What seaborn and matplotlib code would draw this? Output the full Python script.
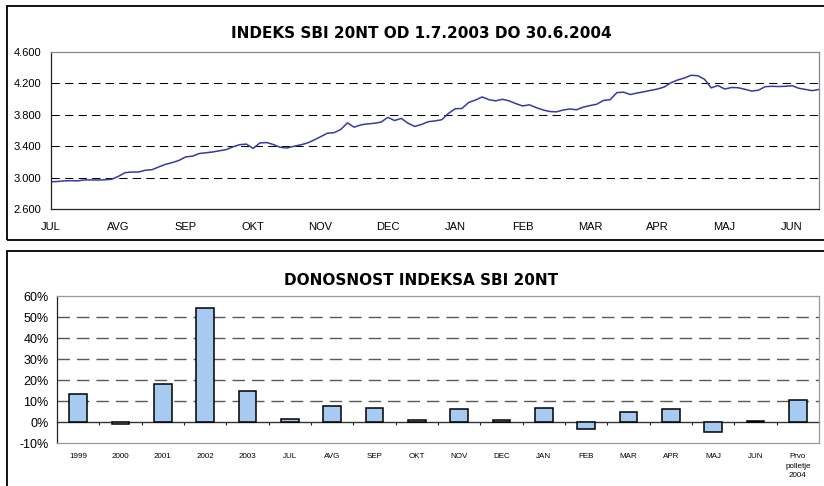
# coding=utf-8
# filename: plot.py

import matplotlib
matplotlib.use('Agg')
import matplotlib.pyplot as plt
from matplotlib.patches import Rectangle
from matplotlib.ticker import FuncFormatter
import numpy as np
import seaborn as sns


# SBI 20NT index (about 2.2 trading days per point)
sbi_index = [
    2946, 2950, 2958, 2960, 2958, 2970, 2970, 2968, 2972, 2978,
    3015, 3062, 3070, 3070, 3093, 3100, 3135, 3168, 3190, 3218,
    3262, 3272, 3305, 3315, 3325, 3340, 3355, 3390, 3418, 3425,
    3370, 3440, 3445, 3420, 3385, 3375, 3396, 3415, 3437, 3475,
    3518, 3563, 3570, 3610, 3695, 3640, 3670, 3682, 3690, 3705,
    3765, 3725, 3752, 3690, 3650, 3675, 3710, 3720, 3735, 3815,
    3875, 3878, 3955, 3985, 4025, 3990, 3975, 3995, 3975, 3940,
    3910, 3925, 3890, 3860, 3840, 3835, 3858, 3872, 3862, 3895,
    3915, 3932, 3980, 3990, 4080, 4085, 4055, 4075, 4090, 4108,
    4125, 4150, 4205, 4240, 4265, 4300, 4295, 4250, 4140, 4170,
    4125, 4145, 4142, 4122, 4100, 4110, 4155, 4160, 4157, 4160,
    4168, 4135, 4120, 4105, 4120,
]
month_labels = ['JUL', 'AVG', 'SEP', 'OKT', 'NOV', 'DEC',
                'JAN', 'FEB', 'MAR', 'APR', 'MAJ', 'JUN']
points_per_month = 10

# returns (%)
ret_labels = ['1999', '2000', '2001', '2002', '2003', 'JUL', 'AVG', 'SEP',
              'OKT', 'NOV', 'DEC', 'JAN', 'FEB', 'MAR', 'APR', 'MAJ', 'JUN',
              'Prvo\npolletje\n2004']
ret_values = [13.4, -0.9, 18.1, 54.3, 14.7, 1.5, 7.6, 6.6,
              1.1, 6.1, 1.2, 6.9, -3.3, 4.8, 6.4, -4.5, 0.6, 10.6]

line_color = '#3838a8'
bar_color = '#a6caf0'
sans = ['Liberation Sans', 'DejaVu Sans']


def plot_index(fig):
    ax = fig.add_axes([51 / 824, 1 - 209 / 486, 768 / 824, 157.3 / 486])
    x = np.arange(len(sbi_index))
    sns.lineplot(x=x, y=sbi_index, ax=ax, color=line_color, linewidth=1.1)

    ax.set_xlim(0, len(sbi_index) - 1)
    ax.set_ylim(2600, 4600)
    ax.set_yticks(np.arange(2600, 4601, 400))
    ax.yaxis.set_major_formatter(FuncFormatter(lambda v, p: f'{int(v):,}'.replace(',', '.')))
    ax.set_xticks(np.arange(len(month_labels)) * points_per_month)
    ax.set_xticklabels(month_labels)

    for v in [3000, 3400, 3800, 4200]:
        ax.axhline(v, color='black', linewidth=0.75, linestyle=(0, (8, 5)), zorder=0)

    for s in ['top', 'right']:
        ax.spines[s].set_color('#888888')
        ax.spines[s].set_linewidth(0.9)
    for s in ['left', 'bottom']:
        ax.spines[s].set_color('#222222')
        ax.spines[s].set_linewidth(0.9)
    ax.tick_params(axis='both', length=3, width=0.8, color='#222222',
                   labelsize=8, pad=4, labelcolor='black')
    ax.tick_params(axis='x', pad=6)
    for t in ax.get_xticklabels() + ax.get_yticklabels():
        t.set_family(sans)
    ax.set_xlabel('')
    ax.set_ylabel('')

    fig.text(421 / 824, 1 - 34 / 486, 'INDEKS SBI 20NT OD 1.7.2003 DO 30.6.2004',
             ha='center', va='center', fontsize=11, fontweight='bold',
             color='black', family=['DejaVu Sans'])


def plot_returns(fig):
    ax = fig.add_axes([57 / 824, 1 - 443.3 / 486, 762 / 824, 147.3 / 486])
    sns.barplot(x=list(range(len(ret_values))), y=ret_values, ax=ax,
                color=bar_color, edgecolor='black', linewidth=1.1,
                width=0.41, saturation=1, zorder=3)

    ax.set_xlim(-0.5, len(ret_values) - 0.5)
    ax.set_ylim(-10, 60)
    ax.set_yticks(np.arange(-10, 61, 10))
    ax.yaxis.set_major_formatter(FuncFormatter(lambda v, p: f'{int(v)}%'))
    ax.set_xticks(np.arange(len(ret_labels)))
    ax.set_xticklabels(ret_labels, linespacing=1.5)

    for v in [10, 20, 30, 40, 50]:
        ax.axhline(v, color='#5a5a5a', linewidth=1.0, linestyle=(0, (9, 5)), zorder=0)

    # category axis sits on the 0% line
    zero_axis = ax.secondary_xaxis(1 / 7)
    zero_axis.set_xticks(np.arange(len(ret_values) - 1) + 0.5)
    zero_axis.set_xticklabels([])
    zero_axis.tick_params(length=2.5, width=0.8, color='#222222', direction='out')
    zero_axis.spines['bottom'].set_color('#333333')
    zero_axis.spines['bottom'].set_linewidth(1.0)

    for s in ['top', 'right', 'bottom']:
        ax.spines[s].set_color('#999999')
        ax.spines[s].set_linewidth(0.9)
    ax.spines['left'].set_color('#222222')
    ax.spines['left'].set_linewidth(0.9)
    ax.tick_params(axis='y', length=3, width=0.8, color='#222222',
                   labelsize=9, pad=3, labelcolor='black')
    ax.tick_params(axis='x', length=0, labelsize=5.8, pad=7, labelcolor='black')
    for t in ax.get_xticklabels() + ax.get_yticklabels():
        t.set_family(sans)
    ax.set_xlabel('')
    ax.set_ylabel('')

    fig.text(421 / 824, 1 - 280 / 486, 'DONOSNOST INDEKSA SBI 20NT',
             ha='center', va='center', fontsize=11, fontweight='bold',
             color='black', family=['DejaVu Sans'])


def main():
    sns.set_theme(style='white')
    plt.rcParams['font.family'] = ['Liberation Sans', 'DejaVu Sans']

    fig = plt.figure(figsize=(8.24, 4.86), dpi=100)
    fig.patch.set_facecolor('white')

    # chart frames
    fig.add_artist(Rectangle((7 / 824, 1 - 240 / 486), 1, (240 - 5.7) / 486,
                             transform=fig.transFigure, fill=False,
                             edgecolor='black', linewidth=1.3))
    fig.add_artist(Rectangle((7 / 824, -0.05), 1, 0.05 + 1 - 251.5 / 486,
                             transform=fig.transFigure, fill=False,
                             edgecolor='black', linewidth=1.3))

    plot_index(fig)
    plot_returns(fig)

    fig.savefig('out.png', dpi=100)


if __name__ == "__main__":
    main()
